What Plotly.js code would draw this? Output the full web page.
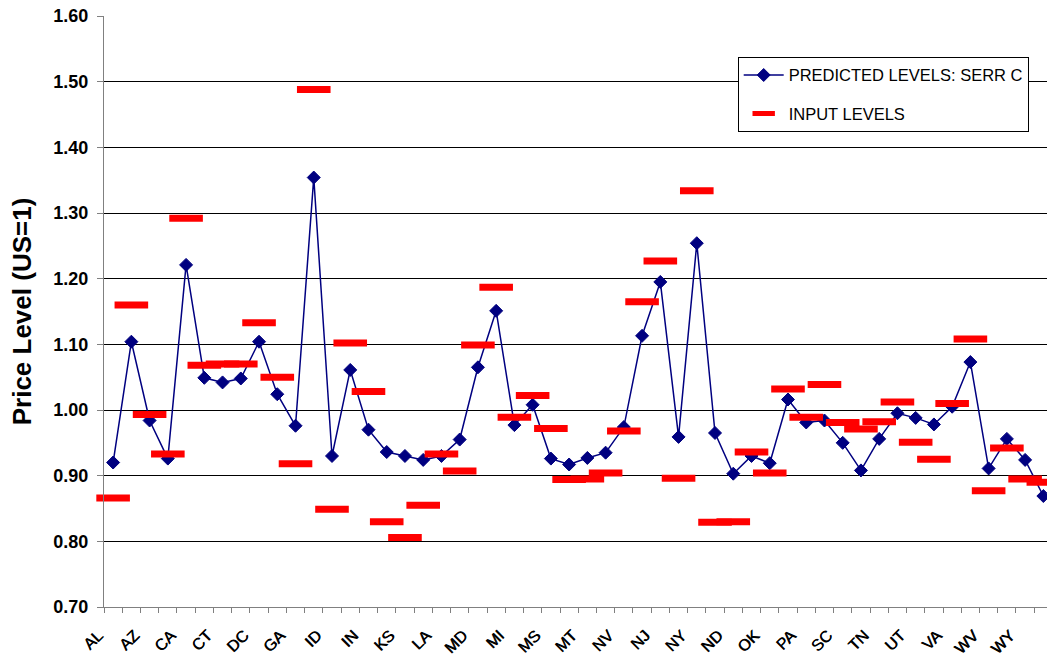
<!DOCTYPE html>
<html>
<head>
<meta charset="utf-8">
<script src="https://cdn.plot.ly/plotly-3.0.1.min.js"></script>
<style>
  html, body { margin: 0; padding: 0; background: #ffffff; }
  #chart { width: 1047px; height: 658px; }
</style>
</head>
<body>
<div id="chart"></div>
<script>
// Category labels (52nd category is unlabelled in the reference)
const states = ["AL","AK","AZ","AR","CA","CO","CT","DE","DC","FL","GA","HI","ID","IL","IN","IA","KS","KY","LA","ME",
                "MD","MA","MI","MN","MS","MO","MT","NE","NV","NH","NJ","NM","NY","NC","ND","OH","OK","OR","PA","RI",
                "SC","SD","TN","TX","UT","VT","VA","WA","WV","WI","WY",""];

// Predicted levels: SERR C
const predicted = [0.920, 1.104, 0.984, 0.926, 1.221, 1.049, 1.042, 1.048, 1.104, 1.024,
                   0.976, 1.354, 0.930, 1.061, 0.970, 0.936, 0.930, 0.924, 0.930, 0.955,
                   1.065, 1.151, 0.977, 1.008, 0.926, 0.917, 0.927, 0.935, 0.974, 1.113,
                   1.195, 0.959, 1.254, 0.965, 0.903, 0.930, 0.919, 1.016, 0.981, 0.984,
                   0.950, 0.908, 0.956, 0.995, 0.988, 0.978, 1.005, 1.073, 0.911, 0.956,
                   0.924, 0.869];

// Input levels
const inputLevels = [0.866, 1.160, 0.993, 0.933, 1.292, 1.068, 1.070, 1.070, 1.133, 1.050,
                     0.918, 1.488, 0.849, 1.102, 1.028, 0.830, 0.806, 0.855, 0.933, 0.907,
                     1.099, 1.187, 0.989, 1.022, 0.972, 0.894, 0.895, 0.904, 0.968, 1.165,
                     1.227, 0.896, 1.334, 0.829, 0.830, 0.936, 0.904, 1.032, 0.989, 1.039,
                     0.981, 0.971, 0.982, 1.012, 0.951, 0.925, 1.010, 1.108, 0.877, 0.942,
                     0.895, 0.890];

const seriesNames = ["PREDICTED LEVELS: SERR C", "INPUT LEVELS"];
const yTitle = "Price Level (US=1)";

const idx = states.map((_, i) => i);
const labelIdx = idx.filter(i => i % 2 === 0 && states[i] !== "");
const labelText = labelIdx.map(i => states[i]);

const FONT = "Liberation Sans, Arial, sans-serif";
const xRange = [-0.5, 51.2];

const traces = [
  {
    type: "scatter", mode: "lines+markers",
    x: idx, y: predicted, name: seriesNames[0],
    xaxis: "x", yaxis: "y",
    legendgroup: "a",
    line: { color: "#000080", width: 1.5 },
    marker: { symbol: "diamond", size: 10, color: "#000080", line: { color: "#000080", width: 1 } },
    cliponaxis: false
  },
  {
    type: "scatter", mode: "markers",
    x: idx, y: inputLevels, name: seriesNames[1],
    xaxis: "x2", yaxis: "y",
    legendgroup: "b",
    marker: { symbol: "line-ew", size: 24, color: "#ff0000", line: { color: "#ff0000", width: 7 } },
    cliponaxis: false
  }
];

const layout = {
  width: 1047, height: 658,
  margin: { l: 104, r: 0, t: 16, b: 51, pad: 0 },
  paper_bgcolor: "#ffffff", plot_bgcolor: "#ffffff",
  showlegend: true,
  font: { family: FONT, color: "#000000" },
  // category labels (rotated), every other category
  xaxis: {
    range: xRange, tickmode: "array", tickvals: labelIdx, ticktext: labelText,
    tickangle: -45, ticks: "outside", ticklen: 12, tickcolor: "rgba(0,0,0,0)",
    ticklabelshift: -15,
    showgrid: false, zeroline: false, showline: true, linecolor: "#808080", linewidth: 1,
    tickfont: { family: FONT, size: 16, color: "#000000", shadow: "0.6px 0 0 #000000" },
    automargin: false, fixedrange: true
  },
  // category boundary tick marks
  xaxis2: {
    overlaying: "x", anchor: "y", side: "bottom",
    range: xRange, tickmode: "linear", tick0: -0.5, dtick: 1,
    ticks: "outside", ticklen: 5, tickcolor: "#808080", tickwidth: 1,
    showticklabels: false, showgrid: false, zeroline: false, showline: false,
    fixedrange: true
  },
  yaxis: {
    range: [0.7, 1.6], tickmode: "linear", tick0: 0.7, dtick: 0.1, tickformat: ".2f",
    ticks: "outside", ticklen: 6, tickcolor: "#808080", tickwidth: 1,
    showline: true, linecolor: "#808080", linewidth: 1,
    showgrid: true, gridcolor: "#000000", gridwidth: 1, zeroline: false,
    tickfont: { family: FONT, size: 18, weight: 700, color: "#000000" },
    ticklabelstandoff: 5,
    title: { text: yTitle, font: { family: FONT, size: 26, weight: 700, color: "#000000" }, standoff: 14 },
    automargin: false, fixedrange: true
  },
  legend: {
    x: 0.672, y: 0.931, xanchor: "left", yanchor: "top",
    bgcolor: "#ffffff", bordercolor: "#000000", borderwidth: 1,
    font: { family: FONT, size: 16.5, color: "#000000" },
    traceorder: "grouped", tracegroupgap: 14,
    itemwidth: 40, entrywidth: 250, entrywidthmode: "pixels"
  }
};

Plotly.newPlot("chart", traces, layout, { displayModeBar: false, staticPlot: true });
</script>
</body>
</html>
